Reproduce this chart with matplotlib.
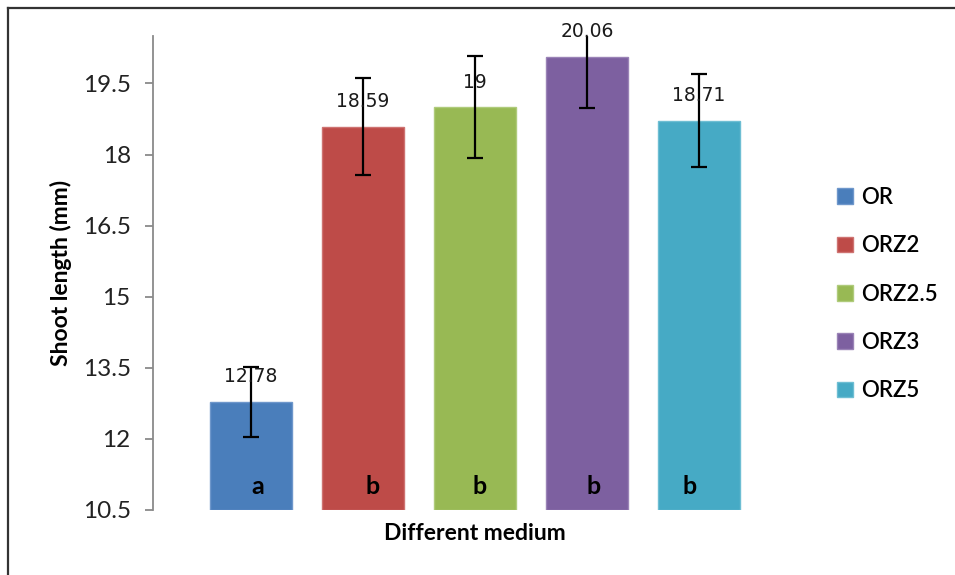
import matplotlib
matplotlib.use("Agg")
import matplotlib.pyplot as plt
from matplotlib.lines import Line2D
from matplotlib.patches import Patch

categories = ["OR", "ORZ2", "ORZ2.5", "ORZ3", "ORZ5"]
values = [12.78, 18.59, 19.0, 20.06, 18.71]
errors = [0.73, 1.03, 1.07, 1.07, 0.98]
value_labels = ["12.78", "18.59", "19", "20.06", "18.71"]
letters = ["a", "b", "b", "b", "b"]
yticks = [10.5, 12, 13.5, 15, 16.5, 18, 19.5]
colors = ["#4A7EBB", "#BE4B48", "#98B954", "#7D60A0", "#46AAC5"]
edges = ["#6E97CB", "#CE7371", "#AFCB7B", "#9A83B6", "#6EBED3"]

plt.rcParams['font.family'] = ['Lato', 'DejaVu Sans']

W, H = 955, 575
fig = plt.figure(figsize=(W / 100, H / 100), dpi=100)
ax = fig.add_axes([153 / W, 1 - 510 / H, (797 - 153) / W, (510 - 36) / H])

x = list(range(len(categories)))
ax.bar(x, [v - 10.5 for v in values], bottom=10.5, width=0.74,
       color=colors, edgecolor=edges, linewidth=1.0, zorder=2)
ax.errorbar(x, values, yerr=errors, fmt='none', ecolor='black',
            elinewidth=1.6, capsize=5.5, capthick=1.6, zorder=3)

for xi, v, lab in zip(x, values, value_labels):
    ax.annotate(lab, (xi, v), xytext=(0, 25), textcoords='offset pixels',
                ha='center', va='center', fontsize=13.5, family='DejaVu Sans',
                color='#1a1a1a', zorder=4)

letter_dx = [7, 10, 5, 7, -9]
for xi, let, dx in zip(x, letters, letter_dx):
    ax.annotate(let, (xi, 10.5), xytext=(dx, 23), textcoords='offset pixels',
                ha='center', va='center', fontsize=18, fontweight='bold',
                color='black', zorder=4)

ax.set_xlim(-0.875, 4.875)
ax.set_ylim(10.5, 20.5)
ax.set_yticks(yticks)
ax.set_yticklabels([f"{t:g}" for t in yticks], fontsize=17.5, color='#222222')
ax.set_xticks([])
for s in ['top', 'right', 'bottom']:
    ax.spines[s].set_visible(False)
ax.spines['left'].set_color('#8A8A8A')
ax.spines['left'].set_linewidth(1.3)
ax.tick_params(axis='y', direction='out', length=6, width=1.3, color='#8A8A8A', pad=10)

ax.set_ylabel("Shoot length (mm)", fontsize=16.5, fontweight='bold')
ax.yaxis.set_label_coords(-0.125, 0.5)
ax.set_xlabel("Different medium", fontsize=16.5, fontweight='bold', labelpad=9)

handles = [Patch(facecolor=c, edgecolor=e) for c, e in zip(colors, edges)]
leg = fig.legend(handles, categories, loc='upper left',
                 bbox_to_anchor=(837 / W, 1 - 187 / H), frameon=False,
                 borderpad=0, borderaxespad=0,
                 fontsize=16, handlelength=0.72, handleheight=0.72,
                 handletextpad=0.35, labelspacing=1.23)
for t in leg.get_texts():
    t.set_fontweight('semibold')

# outer frame (clipped at right and bottom)
fig.add_artist(Line2D([8 / W, 1.0], [1 - 8 / H, 1 - 8 / H], color='#333333', lw=1.6))
fig.add_artist(Line2D([8 / W, 8 / W], [0.0, 1 - 8 / H], color='#333333', lw=1.6))

fig.savefig("out.png", dpi=100)
